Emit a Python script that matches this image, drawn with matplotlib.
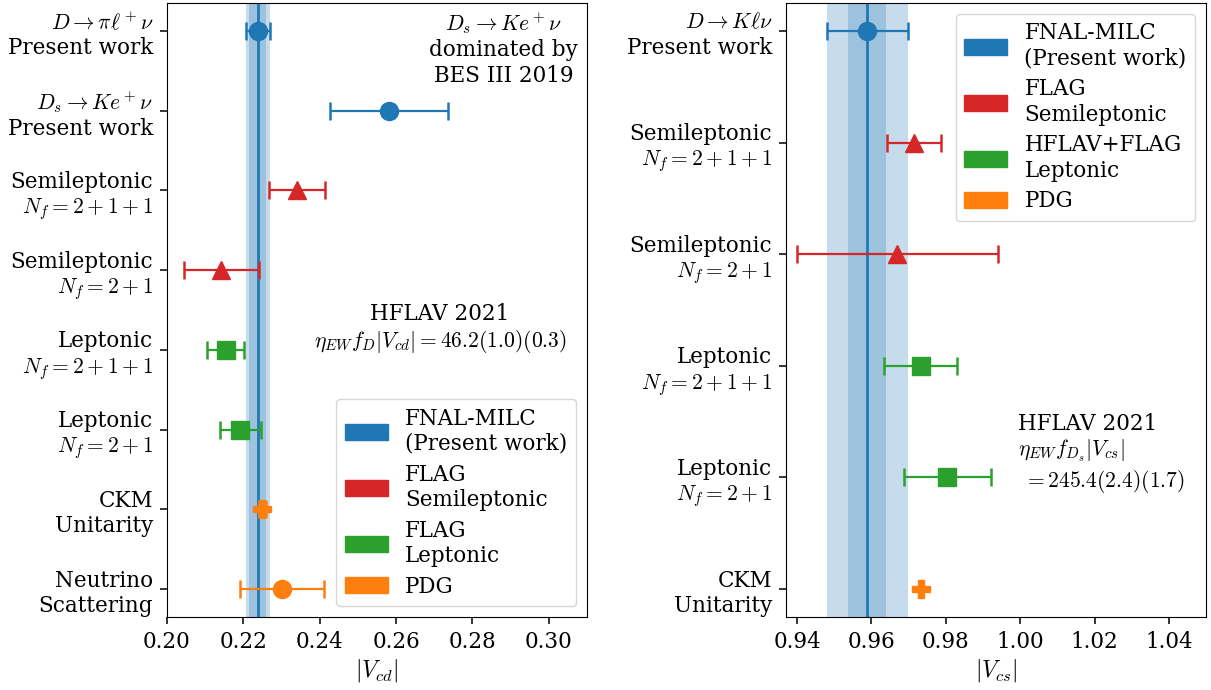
import matplotlib
matplotlib.use("Agg")
import matplotlib.pyplot as plt
from matplotlib.patches import Patch
from matplotlib.ticker import FuncFormatter

plt.rcParams["font.family"] = "DejaVu Serif"
plt.rcParams["mathtext.fontset"] = "cm"
plt.rcParams["font.size"] = 15.5

# ---- |V_cd| panel -------------------------------------------------------
cd_labels = [
    "$D\\to\\pi\\ell^+\\nu$\nPresent work",
    "$D_s\\to K e^+\\nu$\nPresent work",
    "Semileptonic\n$N_f=2+1+1$",
    "Semileptonic\n$N_f=2+1$",
    "Leptonic\n$N_f=2+1+1$",
    "Leptonic\n$N_f=2+1$",
    "CKM\nUnitarity",
    "Neutrino\nScattering",
]
cd_values = [0.2238, 0.2582, 0.2341, 0.2142, 0.2154, 0.2192, 0.2249, 0.2300]
cd_errors = [0.0031, 0.0155, 0.0074, 0.0098, 0.0048, 0.0054, 0.0009, 0.0110]
cd_colors = ["tab:blue", "tab:blue", "tab:red", "tab:red",
             "tab:green", "tab:green", "tab:orange", "tab:orange"]
cd_markers = ["o", "o", "^", "^", "s", "s", "P", "o"]
cd_center = 0.2238
cd_band_inner = 0.0022
cd_band_outer = 0.0031

# ---- |V_cs| panel -------------------------------------------------------
cs_labels = [
    "$D\\to K\\ell\\nu$\nPresent work",
    "Semileptonic\n$N_f=2+1+1$",
    "Semileptonic\n$N_f=2+1$",
    "Leptonic\n$N_f=2+1+1$",
    "Leptonic\n$N_f=2+1$",
    "CKM\nUnitarity",
]
cs_values = [0.9589, 0.9714, 0.9670, 0.9732, 0.9804, 0.9733]
cs_errors = [0.0108, 0.0072, 0.0271, 0.0099, 0.0117, 0.0002]
cs_colors = ["tab:blue", "tab:red", "tab:red", "tab:green", "tab:green", "tab:orange"]
cs_markers = ["o", "^", "^", "s", "s", "P"]
cs_center = 0.9589
cs_band_inner = 0.0051
cs_band_outer = 0.0108

legend_cd = ["FNAL-MILC\n(Present work)", "FLAG\nSemileptonic", "FLAG\nLeptonic", "PDG"]
legend_cs = ["FNAL-MILC\n(Present work)", "FLAG\nSemileptonic", "HFLAV+FLAG\nLeptonic", "PDG"]
legend_colors = ["tab:blue", "tab:red", "tab:green", "tab:orange"]

fig = plt.figure(figsize=(12.11, 6.9), dpi=100)
ax1 = fig.add_axes([0.1379, 0.1058, 0.3468, 0.8899])
ax2 = fig.add_axes([0.6490, 0.1058, 0.3469, 0.8899])


def draw_panel(ax, labels, values, errors, colors, markers, center, inner, outer):
    ax.axvspan(center - outer, center + outer, color="tab:blue", alpha=0.25, lw=0, zorder=0)
    ax.axvspan(center - inner, center + inner, color="tab:blue", alpha=0.25, lw=0, zorder=0)
    ax.axvline(center, color="tab:blue", lw=2, zorder=1)
    ypos = list(range(len(labels)))
    for y, v, e, c, m in zip(ypos, values, errors, colors, markers):
        ax.errorbar(v, y, xerr=e, fmt=m, color=c, ms=13, elinewidth=1.6,
                    capsize=6.5, capthick=1.8, zorder=3)
    ax.set_yticks(ypos)
    ax.set_yticklabels(labels)
    ax.invert_yaxis()
    ax.tick_params(axis="both", length=5, width=1.1, pad=5)


draw_panel(ax1, cd_labels, cd_values, cd_errors, cd_colors, cd_markers,
           cd_center, cd_band_inner, cd_band_outer)
draw_panel(ax2, cs_labels, cs_values, cs_errors, cs_colors, cs_markers,
           cs_center, cs_band_inner, cs_band_outer)

fmt2 = FuncFormatter(lambda x, p: f"{x:.2f}")

ax1.set_xlim(0.20, 0.31)
ax1.set_xticks([0.20, 0.22, 0.24, 0.26, 0.28, 0.30])
ax1.xaxis.set_major_formatter(fmt2)
ax1.set_xlabel("$|V_{cd}|$", fontsize=17, labelpad=3)

ax2.set_xlim(0.937, 1.05)
ax2.set_xticks([0.94, 0.96, 0.98, 1.00, 1.02, 1.04])
ax2.xaxis.set_major_formatter(fmt2)
ax2.set_xlabel("$|V_{cs}|$", fontsize=17, labelpad=3)

ax1.text(0.802, 0.988, "$D_s\\to Ke^+\\nu$\ndominated by\nBES III 2019",
         transform=ax1.transAxes, ha="center", va="top", multialignment="center")
ax1.text(0.65, 0.512, "HFLAV 2021\n$\\eta_{EW}f_D|V_{cd}|=46.2(1.0)(0.3)$",
         transform=ax1.transAxes, ha="center", va="top", multialignment="center")
ax2.text(0.552, 0.333,
         "HFLAV 2021\n$\\eta_{EW}f_{D_s}|V_{cs}|$\n$\\;=245.4(2.4)(1.7)$",
         transform=ax2.transAxes, ha="left", va="top", multialignment="left")

ax1.legend([Patch(color=c) for c in legend_colors], legend_cd, loc="lower right",
           handlelength=2.0, handleheight=0.75, labelspacing=0.4)
ax2.legend([Patch(color=c) for c in legend_colors], legend_cs, loc="upper right",
           handlelength=2.0, handleheight=0.75, labelspacing=0.4)

fig.savefig("out.png", dpi=100)
